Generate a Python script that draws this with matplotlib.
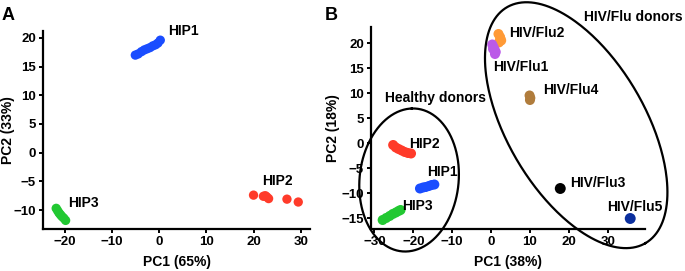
import numpy as np
import matplotlib.pyplot as plt

plt.rcParams['font.family'] = ['Liberation Sans', 'DejaVu Sans']
plt.rcParams['font.weight'] = 'bold'

# Panel A (PC1 65%, PC2 33%)
hip1_a_x = [-5.1, -4.5, -3.8, -3.2, -2.6, -2.0, -1.4, -0.8, -0.3, 0.2]
hip1_a_y = [17.0, 17.2, 17.6, 17.9, 18.1, 18.3, 18.6, 18.8, 19.1, 19.6]
hip2_a_x = [20.0, 22.1, 22.8, 23.2, 22.5, 27.1, 29.5]
hip2_a_y = [-7.4, -7.6, -7.7, -8.0, -7.5, -8.1, -8.6]
hip3_a_x = [-21.9, -21.6, -21.3, -21.0, -20.7, -20.3, -19.9]
hip3_a_y = [-9.7, -10.1, -10.5, -10.8, -11.1, -11.4, -11.8]

# Panel B (PC1 38%, PC2 18%)
hip2_b_x = [-25.2, -24.5, -23.8, -23.0, -22.2, -21.4, -20.6]
hip2_b_y = [-0.3, -0.8, -1.1, -1.4, -1.7, -1.9, -2.0]
hip1_b_x = [-18.3, -17.5, -16.8, -16.0, -15.3, -14.6]
hip1_b_y = [-9.0, -8.8, -8.7, -8.5, -8.3, -8.2]
hip3_b_x = [-27.9, -27.0, -26.1, -25.3, -24.5, -23.8, -23.3]
hip3_b_y = [-15.3, -14.9, -14.5, -14.1, -13.8, -13.5, -13.3]
flu2_x = [1.9, 2.3, 2.6, 2.0, 2.4]
flu2_y = [21.9, 21.3, 20.6, 20.2, 21.0]
flu1_x = [0.3, 0.6, 0.9, 1.2, 1.0, 0.5]
flu1_y = [19.8, 19.3, 18.8, 18.3, 17.9, 18.9]
flu4_x = [9.9, 10.1, 10.0]
flu4_y = [9.6, 9.1, 8.7]
flu3_x = [17.8]
flu3_y = [-9.0]
flu5_x = [35.8]
flu5_y = [-15.0]

c_blue = '#1a4dff'
c_red = '#ff3b2a'
c_green = '#22c832'
c_orange = '#ff9a36'
c_purple = '#bb5ae8'
c_brown = '#b07c3c'
c_black = '#000000'
c_navy = '#0b2f9e'

fig = plt.figure(figsize=(6.85, 2.71), dpi=100)
ax1 = fig.add_axes([0.0628, 0.155, 0.3898, 0.7306])
ax2 = fig.add_axes([0.5416, 0.155, 0.4, 0.7454])


def style(ax):
    for s in ['top', 'right']:
        ax.spines[s].set_visible(False)
    for s in ['left', 'bottom']:
        ax.spines[s].set_linewidth(1.6)
    ax.tick_params(length=3, width=1.4, labelsize=9.5, pad=2)
    for lbl in ax.get_xticklabels() + ax.get_yticklabels():
        lbl.set_fontweight('bold')


# ---- panel A
ax1.scatter(hip1_a_x, hip1_a_y, s=45, color=c_blue, edgecolors='none')
ax1.scatter(hip2_a_x, hip2_a_y, s=45, color=c_red, edgecolors='none')
ax1.scatter(hip3_a_x, hip3_a_y, s=45, color=c_green, edgecolors='none')
ax1.set_xlim(-24.7, 32.0)
ax1.set_ylim(-13.3, 21.2)
ax1.set_xticks([-20, -10, 0, 10, 20, 30])
ax1.set_yticks([-10, -5, 0, 5, 10, 15, 20])
style(ax1)
ax1.set_xlabel('PC1 (65%)', fontsize=10, fontweight='bold')
ax1.set_ylabel('PC2 (33%)', fontsize=10, fontweight='bold')
ax1.xaxis.set_label_coords(0.5, -0.13)
ax1.yaxis.set_label_coords(-0.104, 0.5)
lab = dict(fontsize=10, fontweight='bold', va='center', ha='left')
ax1.text(1.9, 21.2, 'HIP1', **lab)
ax1.text(21.8, -5.0, 'HIP2', **lab)
ax1.text(-19.3, -8.85, 'HIP3', **lab)

# ---- panel B
ax2.scatter(hip2_b_x, hip2_b_y, s=52, color=c_red, edgecolors='none')
ax2.scatter(hip1_b_x, hip1_b_y, s=52, color=c_blue, edgecolors='none')
ax2.scatter(hip3_b_x, hip3_b_y, s=52, color=c_green, edgecolors='none')
ax2.scatter(flu2_x, flu2_y, s=52, color=c_orange, edgecolors='none')
ax2.scatter(flu1_x, flu1_y, s=52, color=c_purple, edgecolors='none')
ax2.scatter(flu4_x, flu4_y, s=52, color=c_brown, edgecolors='none')
ax2.scatter(flu3_x, flu3_y, s=62, color=c_black, edgecolors='none')
ax2.scatter(flu5_x, flu5_y, s=62, color=c_navy, edgecolors='none')
ax2.set_xlim(-30.9, 39.6)
ax2.set_ylim(-17.1, 23.3)
ax2.set_xticks([-30, -20, -10, 0, 10, 20, 30])
ax2.set_yticks([-15, -10, -5, 0, 5, 10, 15, 20])
style(ax2)
ax2.set_xlabel('PC1 (38%)', fontsize=10, fontweight='bold')
ax2.set_ylabel('PC2 (18%)', fontsize=10, fontweight='bold')
ax2.xaxis.set_label_coords(0.5, -0.129)
ax2.yaxis.set_label_coords(-0.113, 0.5)
ax2.text(-21.1, -0.1, 'HIP2', **lab)
ax2.text(-16.4, -5.7, 'HIP1', **lab)
ax2.text(-22.8, -12.5, 'HIP3', **lab)
ax2.text(4.7, 22.0, 'HIV/Flu2', **lab)
ax2.text(0.4, 15.3, 'HIV/Flu1', **lab)
ax2.text(13.3, 10.7, 'HIV/Flu4', **lab)
ax2.text(20.4, -8.0, 'HIV/Flu3', **lab)
ax2.text(29.8, -12.8, 'HIV/Flu5', **lab)
ax2.text(-27.3, 9.0, 'Healthy donors', **lab)
ax2.text(23.8, 25.3, 'HIV/Flu donors', **lab)

# group ellipses (centre and two semi-axis vectors, in data units)
t = np.linspace(0, 2 * np.pi, 300)
for cx, cy, ux, uy, vx, vy in [(-21.1, -7.3, 0.7, 14.3, 12.8, 0.34),
                               (21.9, 3.66, 17.8, -23.6, 15.3, 6.9)]:
    ex = cx + ux * np.cos(t) + vx * np.sin(t)
    ey = cy + uy * np.cos(t) + vy * np.sin(t)
    ax2.plot(ex, ey, color='black', lw=1.6, clip_on=False)

fig.text(0.002, 0.975, 'A', fontsize=13, fontweight='bold', va='top')
fig.text(0.474, 0.975, 'B', fontsize=13, fontweight='bold', va='top')

fig.savefig('out.png', dpi=100)
